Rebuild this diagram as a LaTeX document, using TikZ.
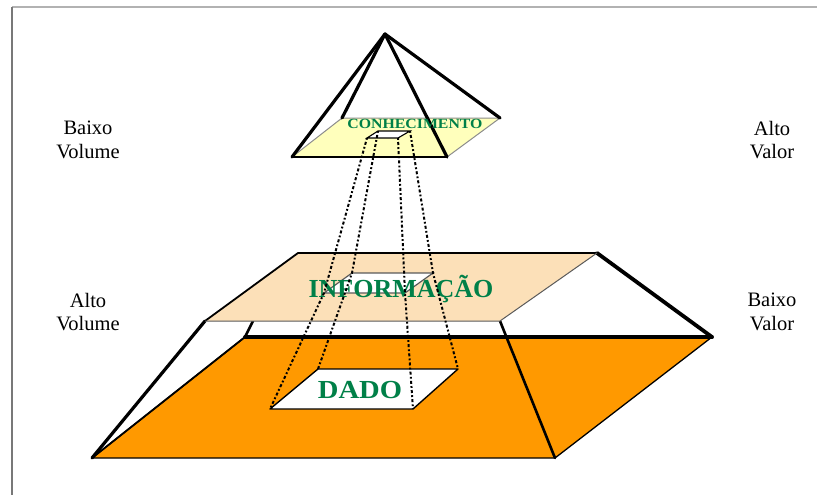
\documentclass[tikz,border=0pt]{standalone}
\usepackage{fontspec}
\setmainfont{Liberation Serif}
\definecolor{dataorange}{RGB}{255,153,0}
\definecolor{infotan}{RGB}{252,224,184}
\definecolor{knowyellow}{RGB}{255,255,188}
\definecolor{levelgreen}{RGB}{0,128,72}
\definecolor{framegray}{RGB}{120,120,120}
\definecolor{edgegray}{RGB}{90,90,90}
\begin{document}
\begin{tikzpicture}[x=1pt,y=-1pt,
  heavy/.style={line width=3.2pt,line cap=round,line join=round},
  medium/.style={line width=1.8pt,line cap=round,line join=round},
  light/.style={line width=1pt,draw=edgegray},
  sight/.style={line width=2pt,dash pattern=on 1.8pt off 2.2pt on 3pt off 2.2pt},
  sidelabel/.style={align=center,inner sep=0pt,font=\fontsize{20.5}{23.5}\selectfont},
  levellabel/.style={inner sep=0pt,text=levelgreen,font=\bfseries}]
\useasboundingbox (0,0) rectangle (817,495);

% page frame
\coordinate (fTL) at (12,7);
\coordinate (fTR) at (817,7);
\coordinate (fBL) at (12,495);
\draw[line width=1.2pt,draw=black!30] (fTL) -- (fTR);
\draw[line width=2pt,draw=framegray] (fTL) -- (fBL);

% ---------- base level: data ----------
\coordinate (dFL) at (92,458);
\coordinate (dFR) at (555,458);
\coordinate (dBR) at (712,337);
\coordinate (dBL) at (245,337);
\fill[dataorange] (dFL) -- (dFR) -- (dBR) -- (dBL) -- cycle;
\draw[medium,line width=1.3pt] (dBL) -- (dFL) -- (dFR) -- (dBR);

% window of the data level
\coordinate (wdBL) at (270,409);
\coordinate (wdBR) at (413,409);
\coordinate (wdTR) at (458,369);
\coordinate (wdTL) at (318,369);
\filldraw[fill=white,draw=black,line width=1.4pt,line join=round]
  (wdBL) -- (wdBR) -- (wdTR) -- (wdTL) -- cycle;

% ---------- middle level: information ----------
\coordinate (iBL) at (298,253);
\coordinate (iBR) at (597,253);
\coordinate (iFR) at (500,321);
\coordinate (iFL) at (205,321);
\coordinate (iUnder) at (253,321);

% side edges of the frustum
\draw[heavy] (dFL) -- (iFL);
\draw[medium] (dFL) -- (dBL);
\draw[heavy,line width=2.6pt] (dBL) -- (iUnder);
\draw[heavy,line width=2.6pt] (iFR) -- (dFR);
\draw[heavy,line width=3.8pt] (iBR) -- (dBR);
\draw[heavy,line width=3.8pt] (dBL) -- (dBR);

% information plane
\fill[infotan] (iBL) -- (iBR) -- (iFR) -- (iFL) -- cycle;
\draw[medium] (iFL) -- (iBL) -- (iBR);
\draw[light] (iBR) -- (iFR) -- (iFL);

% window of the information level
\coordinate (wiTL) at (352,273);
\coordinate (wiTR) at (433,273);
\coordinate (wiBR) at (405,293);
\coordinate (wiBL) at (324,293);
\filldraw[fill=white,draw=edgegray,line width=1.2pt]
  (wiTL) -- (wiTR) -- (wiBR) -- (wiBL) -- cycle;

% ---------- top level: knowledge ----------
\coordinate (apex) at (385,34);
\coordinate (kBL) at (342,118);
\coordinate (kBR) at (500,118);
\coordinate (kFR) at (447,157);
\coordinate (kFL) at (292,157);
\fill[knowyellow] (kBL) -- (kBR) -- (kFR) -- (kFL) -- cycle;
\draw[light,draw=black!45] (kFL) -- (kBL) -- (kBR) -- (kFR);
\draw[medium,line width=1.4pt] (kFL) -- (kFR);

% window of the knowledge level
\coordinate (wkBL) at (367,138);
\coordinate (wkBR) at (398,138);
\coordinate (wkTR) at (410,131);
\coordinate (wkTL) at (378,131);
\filldraw[fill=white,draw=black,line width=1.1pt]
  (wkBL) -- (wkBR) -- (wkTR) -- (wkTL) -- cycle;

% pyramid edges
\draw[heavy] (apex) -- (kFL);
\draw[heavy] (apex) -- (kFR);
\draw[heavy] (apex) -- (kBL);
\draw[heavy] (apex) -- (kBR);

% ---------- level texts ----------
\node[levellabel,font=\bfseries\fontsize{14}{14}\selectfont] (know) at (415,124)
  {\scalebox{1.13}[1]{CONHECIMENTO}};
\node[levellabel,font=\bfseries\fontsize{26}{26}\selectfont] (info) at (401,289)
  {INFORMAÇÃO};
\node[levellabel,font=\bfseries\fontsize{26}{26}\selectfont] (data) at (360,390)
  {\scalebox{1.1}[1]{DADO}};

% sight lines through the windows
\draw[sight] (wkBL) -- (wiBL) -- (wdBL);
\draw[sight] (wkTL) -- (wiTL) -- (wdTL);
\draw[sight] (wkBR) -- (wiBR) -- (wdBR);
\draw[sight] (wkTR) -- (wiTR) -- (wdTR);

% ---------- side labels ----------
\node[sidelabel] (lowvol)  at (88,140)  {Baixo\\Volume};
\node[sidelabel] (highvol) at (88,312)  {Alto\\Volume};
\node[sidelabel] (highval) at (772,140) {Alto\\Valor};
\node[sidelabel] (lowval)  at (772,312) {Baixo\\Valor};
\end{tikzpicture}
\end{document}
